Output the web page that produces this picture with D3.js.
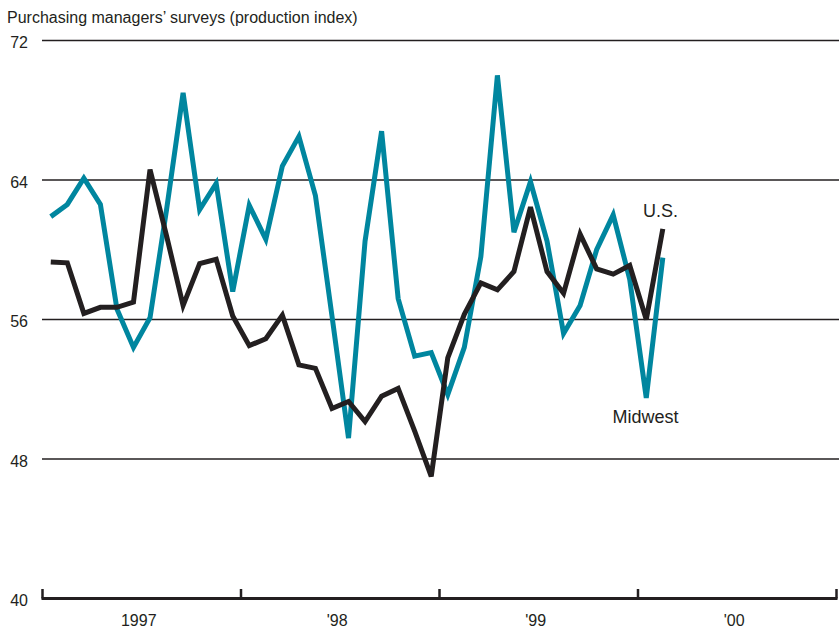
<!DOCTYPE html>
<html>
<head>
<meta charset="utf-8">
<script src="https://cdn.jsdelivr.net/npm/d3@7"></script>
<style>
  html, body { margin: 0; padding: 0; background: #fff; }
  svg text { font-family: "Liberation Sans", Arial, Helvetica, sans-serif; fill: #231f20; }
</style>
</head>
<body>
<svg id="chart" width="839" height="629"></svg>
<script>
// Monthly observations, Jan 1997 – Feb 2000
const startYear = 1997;
const yearLabels = ["1997", "'98", "'99", "'00"];
const yTicks = [40, 48, 56, 64, 72];
const midwest = [61.9, 62.6, 64.1, 62.6, 56.6, 54.4, 56.1, 62.3, 69.0, 62.3, 63.8, 57.6,
                 62.55, 60.6, 64.8, 66.5, 63.1, 56.2, 49.2, 60.5, 66.8, 57.2, 53.9, 54.1,
                 51.7, 54.4, 59.6, 70.0, 61.0, 63.9, 60.5, 55.2, 56.8, 60.0, 62.0, 58.3,
                 51.5, 59.55];
const us = [59.3, 59.25, 56.35, 56.7, 56.7, 57.0, 64.6, 60.8, 56.8, 59.2, 59.45, 56.2,
            54.5, 54.9, 56.25, 53.4, 53.2, 50.9, 51.3, 50.15, 51.6, 52.05, 49.6, 47.0,
            53.8, 56.3, 58.1, 57.7, 58.75, 62.45, 58.75, 57.5, 60.9, 58.9, 58.6, 59.1,
            56.0, 61.2];
const title = "Purchasing managers\u2019 surveys (production index)";

const svg = d3.select("#chart");
const ink = "#231f20";
const teal = "#00869f";

const nMonths = yearLabels.length * 12;
const x = d3.scaleLinear().domain([-0.5, nMonths - 0.5]).range([42.5, 836.5]);
const y = d3.scaleLinear().domain([40, 72]).range([598.5, 40.5]);

// title
svg.append("text").attr("x", 7).attr("y", 23).attr("font-size", 16).text(title);

// gridlines
svg.append("g").selectAll("line").data(yTicks.filter(d => d > 40)).join("line")
  .attr("x1", 42).attr("x2", 839)
  .attr("y1", d => y(d)).attr("y2", d => y(d))
  .attr("stroke", ink).attr("stroke-width", 1.5);

// y tick labels
svg.append("g").selectAll("text").data(yTicks).join("text")
  .attr("x", 28).attr("y", d => y(d) + 7.5)
  .attr("text-anchor", "end").attr("font-size", 16)
  .text(d => d);

// x axis
const yearBounds = d3.range(yearLabels.length + 1).map(i => i * 12 - 0.5);
svg.append("line").attr("x1", x(-0.5) - 1).attr("x2", x(nMonths - 0.5) + 1)
  .attr("y1", y(40)).attr("y2", y(40)).attr("stroke", ink).attr("stroke-width", 3);
svg.append("g").selectAll("line").data(yearBounds).join("line")
  .attr("x1", d => x(d)).attr("x2", d => x(d))
  .attr("y1", y(40) - 9.5).attr("y2", y(40))
  .attr("stroke", ink).attr("stroke-width", 2.5);
svg.append("g").selectAll("text").data(yearLabels).join("text")
  .attr("x", (d, i) => x(i * 12 + 5.5) - 3)
  .attr("y", 626).attr("text-anchor", "middle").attr("font-size", 16)
  .text(d => d);

// lines
const line = d3.line().x((d, i) => x(i)).y(d => y(d));
svg.append("path").datum(midwest).attr("d", line)
  .attr("fill", "none").attr("stroke", teal).attr("stroke-width", 5)
  .attr("stroke-linejoin", "miter");
svg.append("path").datum(us).attr("d", line)
  .attr("fill", "none").attr("stroke", ink).attr("stroke-width", 5)
  .attr("stroke-linejoin", "miter");

// labels
svg.append("text").attr("x", 643).attr("y", 217).attr("font-size", 18).text("U.S.");
svg.append("text").attr("x", 612.5).attr("y", 423).attr("font-size", 18).text("Midwest");
</script>
</body>
</html>
